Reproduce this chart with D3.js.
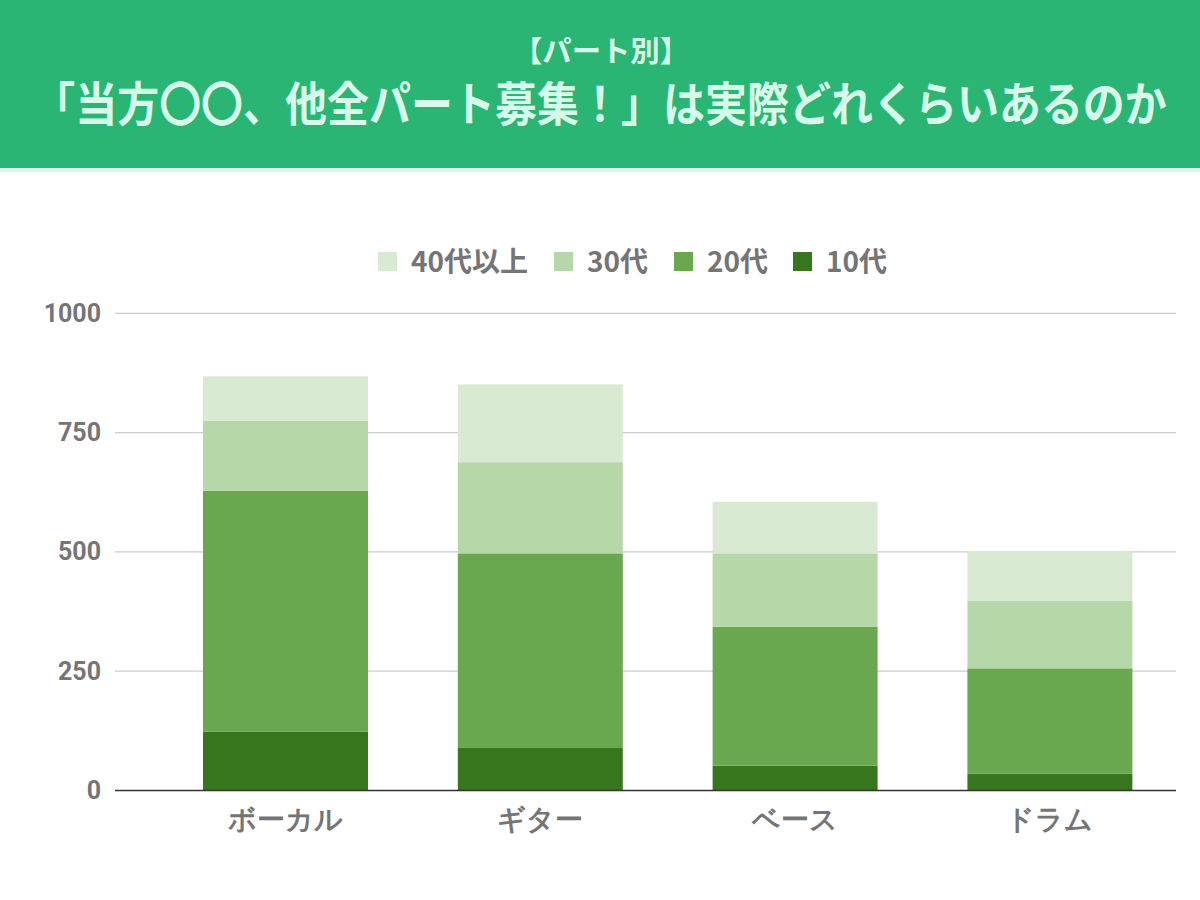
<!DOCTYPE html>
<html><head><meta charset="utf-8">
<script src="https://cdn.jsdelivr.net/npm/d3@7"></script>
<style>
html,body{margin:0;padding:0;background:#fff;}
svg{display:block;font-family:"Noto Sans CJK JP","Noto Sans",sans-serif;}
</style></head>
<body><svg id="c" width="1200" height="900"></svg>
<script>
const categories = ["ボーカル","ギター","ベース","ドラム"];
const seriesNames = ["10代","20代","30代","40代以上"];
const teens    = [123, 89, 52, 35];
const twenties = [505, 408, 291, 221];
const thirties = [147, 191, 154, 141];
const forties  = [93, 163, 108, 105];
const yTicks = [0, 250, 500, 750, 1000];
const legendOrder = ["40代以上","30代","20代","10代"];
const colors = {"10代":"#38761d","20代":"#6aa84f","30代":"#b6d7a8","40代以上":"#d9ead3"};

const svg = d3.select("#c");

// header
svg.append("rect").attr("x",0).attr("y",0).attr("width",1200).attr("height",168).attr("fill","#2bb574");
svg.append("rect").attr("x",0).attr("y",168).attr("width",1200).attr("height",4).attr("fill","#dcf7ea");
svg.append("text").attr("x",601).attr("y",62).attr("text-anchor","middle")
  .attr("font-size",29).attr("font-weight",700).attr("fill","#d6fbea")
  .attr("textLength",176).attr("lengthAdjust","spacingAndGlyphs")
  .text("【パート別】");
svg.append("g").attr("transform","translate(600,121) scale(1,1.12)")
  .append("text").attr("x",0).attr("y",0).attr("text-anchor","middle")
  .attr("font-size",42).attr("font-weight",700).attr("fill","#d6fbea")
  .text("「当方〇〇、他全パート募集！」は実際どれくらいあるのか");

const data = categories.map((c,i)=>({cat:c,"10代":teens[i],"20代":twenties[i],"30代":thirties[i],"40代以上":forties[i]}));
const stack = d3.stack().keys(seriesNames)(data);

const y = d3.scaleLinear().domain([0,1000]).range([790.5,313.3]);
const x = d3.scaleBand().domain(categories).range([158.1,1177.3]).paddingInner(0.3525).paddingOuter(0.17625);

// grid
svg.append("g").selectAll("line").data(yTicks.filter(d=>d>0)).join("line")
  .attr("x1",115).attr("x2",1176).attr("y1",d=>y(d)).attr("y2",d=>y(d))
  .attr("stroke","#cccccc").attr("stroke-width",1.3);

const yAxis = d3.axisLeft(y).tickValues(yTicks).tickFormat(d3.format("d")).tickSize(0).tickPadding(0);
const ya = svg.append("g").attr("transform","translate(101,0)").call(yAxis);
ya.select(".domain").remove();
ya.selectAll("text").attr("font-size",25).attr("font-weight",700).attr("fill","#757575")
  .attr("font-family","Roboto,'Noto Sans',sans-serif");

// bars
svg.append("g").selectAll("g").data(stack).join("g")
  .attr("fill",d=>colors[d.key])
  .selectAll("rect").data(d=>d).join("rect")
  .attr("x",d=>x(d.data.cat)).attr("width",x.bandwidth())
  .attr("y",d=>y(d[1])).attr("height",d=>y(d[0])-y(d[1]));

// baseline
svg.append("line").attr("x1",115).attr("x2",1176).attr("y1",y(0)).attr("y2",y(0))
  .attr("stroke","#333333").attr("stroke-width",1.5);

// x axis
const xAxis = d3.axisBottom(x).tickSize(0).tickPadding(0);
const xa = svg.append("g").attr("transform","translate(0,829)").call(xAxis);
xa.select(".domain").remove();
xa.selectAll("text").attr("font-size",28).attr("font-weight",700).attr("fill","#757575").attr("dy","0");

// legend
const legX = [378, 554, 674, 793];
const leg = svg.append("g").selectAll("g").data(legendOrder).join("g")
  .attr("transform",(d,i)=>`translate(${legX[i]},252)`);
leg.append("rect").attr("width",19).attr("height",19).attr("fill",d=>colors[d]);
leg.append("text").attr("x",33).attr("y",20).attr("font-size",28).attr("font-weight",700)
  .attr("fill","#757575").text(d=>d);
</script></body></html>
